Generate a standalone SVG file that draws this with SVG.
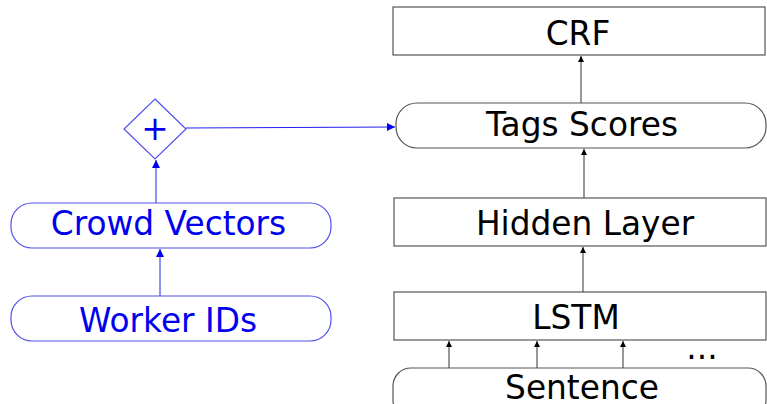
<svg xmlns="http://www.w3.org/2000/svg" width="767" height="404" viewBox="0 0 767 404">
  <style>
    .box { fill: #ffffff; stroke: #555555; stroke-width: 1.2; }
    .crowd { fill: #ffffff; stroke: #5050ee; stroke-width: 1.2; }
    .lbl { font-family: "DejaVu Sans", sans-serif; font-size: 32.8px; text-anchor: middle; fill: #000000; }
    .blue { fill: #0000ee; }
    .edge { stroke: #333333; stroke-width: 1; fill: none; }
    .bedge { stroke: #2020ee; stroke-width: 1; fill: none; }
  </style>
  <defs>
    <marker id="ah" markerWidth="8" markerHeight="8" refX="6" refY="3" orient="auto" markerUnits="userSpaceOnUse">
      <path d="M0,0 L6,3 L0,6 z" fill="#000000"/>
    </marker>
    <marker id="bh" markerWidth="10" markerHeight="10" refX="8" refY="4" orient="auto" markerUnits="userSpaceOnUse">
      <path d="M0,0 L8,4 L0,8 z" fill="#0000ee"/>
    </marker>
  </defs>
  <rect width="767" height="404" fill="#ffffff"/>

  <g id="connectors">
    <line class="edge" x1="581" y1="103" x2="581" y2="56" marker-end="url(#ah)"/>
    <line class="edge" x1="584" y1="198" x2="584" y2="149" marker-end="url(#ah)"/>
    <line class="edge" x1="583" y1="292" x2="583" y2="247" marker-end="url(#ah)"/>
    <line class="edge" x1="449" y1="368" x2="449" y2="341" marker-end="url(#ah)"/>
    <line class="edge" x1="537" y1="368" x2="537" y2="341" marker-end="url(#ah)"/>
    <line class="edge" x1="623" y1="368" x2="623" y2="341" marker-end="url(#ah)"/>
    <line class="bedge" x1="186" y1="128" x2="395" y2="127" marker-end="url(#bh)"/>
    <line class="bedge" x1="156" y1="203" x2="156" y2="160" marker-end="url(#bh)"/>
    <line class="bedge" x1="160" y1="296" x2="160" y2="249" marker-end="url(#bh)"/>
  </g>

  <g id="crf">
    <rect class="box" x="393" y="7" width="372" height="48"/>
    <text class="lbl" x="578" y="45">CRF</text>
  </g>
  <g id="tags-scores">
    <rect class="box" x="396" y="103" width="370" height="45" rx="21" ry="21"/>
    <text class="lbl" x="582" y="136">Tags Scores</text>
  </g>
  <g id="hidden-layer">
    <rect class="box" x="394" y="198" width="372" height="48"/>
    <text class="lbl" x="585" y="235">Hidden Layer</text>
  </g>
  <g id="lstm">
    <rect class="box" x="394" y="292" width="372" height="48"/>
    <text class="lbl" x="576" y="329">LSTM</text>
  </g>
  <g id="dots">
    <text class="lbl" x="702" y="359">...</text>
  </g>
  <g id="sentence">
    <rect class="box" x="393" y="368" width="373" height="50" rx="18" ry="18"/>
    <text class="lbl" x="582" y="399">Sentence</text>
  </g>

  <g id="plus">
    <polygon class="crowd" points="155,99 186,129 155,159 124,129"/>
    <text class="lbl blue" x="155" y="140">+</text>
  </g>
  <g id="crowd-vectors">
    <rect class="crowd" x="11" y="203" width="320" height="45" rx="21" ry="21"/>
    <text class="lbl blue" x="168.5" y="235">Crowd Vectors</text>
  </g>
  <g id="worker-ids">
    <rect class="crowd" x="11" y="296" width="320" height="45" rx="21" ry="21"/>
    <text class="lbl blue" x="168" y="332">Worker IDs</text>
  </g>
</svg>
